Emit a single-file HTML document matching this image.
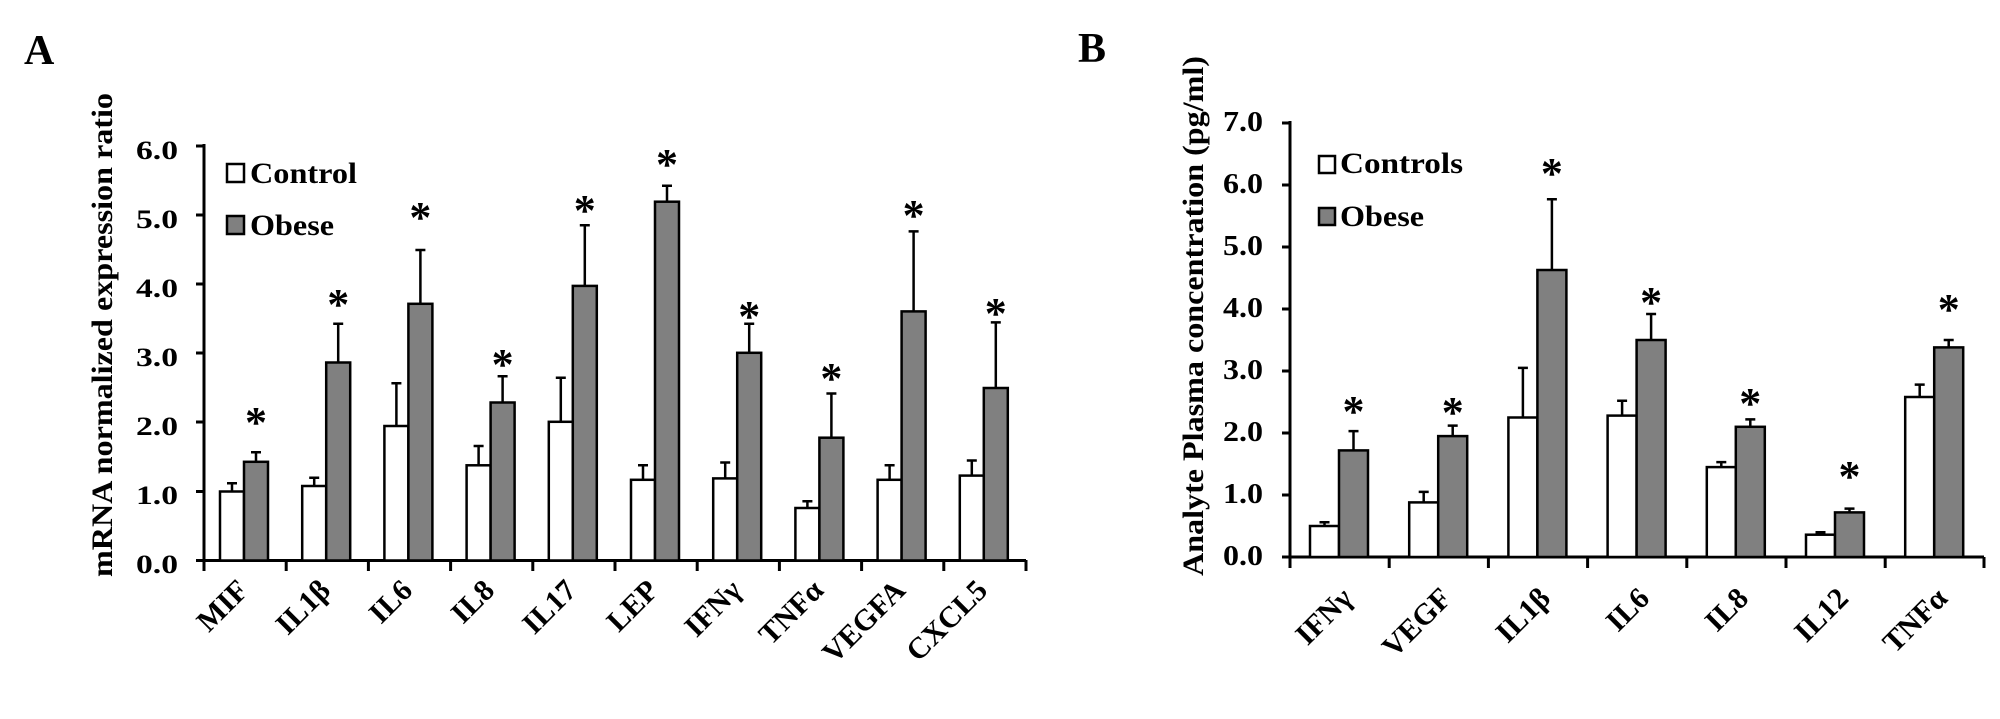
<!DOCTYPE html>
<html><head><meta charset="utf-8"><style>body{margin:0;background:#fff}svg{display:block}text{font-family:"Liberation Serif",serif;font-weight:bold;fill:#000}</style></head><body>
<svg width="2000" height="719" viewBox="0 0 2000 719" xmlns="http://www.w3.org/2000/svg">
<text x="24" y="64" font-size="42">A</text>
<text x="1078" y="62" font-size="42">B</text>
<!-- Panel A -->
<text transform="translate(112,335) rotate(-90)" font-size="30" text-anchor="middle" textLength="484" lengthAdjust="spacingAndGlyphs">mRNA normalized expression ratio</text>
<g font-size="26" text-anchor="end">
<text x="178" y="573" textLength="42" lengthAdjust="spacingAndGlyphs">0.0</text><text x="178" y="504" textLength="42" lengthAdjust="spacingAndGlyphs">1.0</text><text x="178" y="435" textLength="42" lengthAdjust="spacingAndGlyphs">2.0</text><text x="178" y="366" textLength="42" lengthAdjust="spacingAndGlyphs">3.0</text><text x="178" y="297" textLength="42" lengthAdjust="spacingAndGlyphs">4.0</text><text x="178" y="228" textLength="42" lengthAdjust="spacingAndGlyphs">5.0</text><text x="178" y="159" textLength="42" lengthAdjust="spacingAndGlyphs">6.0</text></g>
<g stroke="#000" stroke-width="3">
<line x1="204" y1="144" x2="204" y2="562"/><line x1="202" y1="560.5" x2="1026" y2="560.5"/>
<line x1="196" y1="146" x2="204" y2="146"/><line x1="196" y1="215" x2="204" y2="215"/><line x1="196" y1="284" x2="204" y2="284"/><line x1="196" y1="353" x2="204" y2="353"/><line x1="196" y1="422" x2="204" y2="422"/><line x1="196" y1="491.5" x2="204" y2="491.5"/><line x1="196" y1="560.5" x2="204" y2="560.5"/>
<line x1="204" y1="560" x2="204" y2="571"/><line x1="286.2" y1="560" x2="286.2" y2="571"/><line x1="368.4" y1="560" x2="368.4" y2="571"/><line x1="450.6" y1="560" x2="450.6" y2="571"/><line x1="532.8" y1="560" x2="532.8" y2="571"/><line x1="615" y1="560" x2="615" y2="571"/><line x1="697.2" y1="560" x2="697.2" y2="571"/><line x1="779.4" y1="560" x2="779.4" y2="571"/><line x1="861.6" y1="560" x2="861.6" y2="571"/><line x1="943.8" y1="560" x2="943.8" y2="571"/><line x1="1026" y1="560" x2="1026" y2="571"/>
</g>
<g stroke="#000" stroke-width="2.5">
<path d="M232 491.5V483.2M227 483.2h10M256 461.8V452.2M251 452.2h10
M314.2 486V477.7M309.2 477.7h10M338.2 362.5V323.8M333.2 323.8h10
M396.4 426V383.2M391.4 383.2h10M420.4 303.8V250M415.4 250h10
M478.6 465.3V446M473.6 446h10M502.6 402.5V376.3M497.6 376.3h10
M560.8 421.8V377.7M555.8 377.7h10M584.8 285.9V225.2M579.8 225.2h10
M643 479.8V465.3M638 465.3h10M667 201.7V185.8M662 185.8h10
M725.2 478.4V462.5M720.2 462.5h10M749.2 352.8V323.8M744.2 323.8h10
M807.4 508V501.2M802.4 501.2h10M831.4 437.7V393.5M826.4 393.5h10
M889.6 479.8V465.3M884.6 465.3h10M913.6 311.4V231.4M908.6 231.4h10
M971.8 475.6V460.5M966.8 460.5h10M995.8 388V322.4M990.8 322.4h10" fill="none"/>
<rect x="220" y="491.5" width="24" height="69" fill="#fff"/><rect x="244" y="461.8" width="24" height="98.7" fill="#808080"/>
<rect x="302.2" y="486" width="24" height="74.5" fill="#fff"/><rect x="326.2" y="362.5" width="24" height="198" fill="#808080"/>
<rect x="384.4" y="426" width="24" height="134.5" fill="#fff"/><rect x="408.4" y="303.8" width="24" height="256.7" fill="#808080"/>
<rect x="466.6" y="465.3" width="24" height="95.2" fill="#fff"/><rect x="490.6" y="402.5" width="24" height="158" fill="#808080"/>
<rect x="548.8" y="421.8" width="24" height="138.7" fill="#fff"/><rect x="572.8" y="285.9" width="24" height="274.6" fill="#808080"/>
<rect x="631" y="479.8" width="24" height="80.7" fill="#fff"/><rect x="655" y="201.7" width="24" height="358.8" fill="#808080"/>
<rect x="713.2" y="478.4" width="24" height="82.1" fill="#fff"/><rect x="737.2" y="352.8" width="24" height="207.7" fill="#808080"/>
<rect x="795.4" y="508" width="24" height="52.5" fill="#fff"/><rect x="819.4" y="437.7" width="24" height="122.8" fill="#808080"/>
<rect x="877.6" y="479.8" width="24" height="80.7" fill="#fff"/><rect x="901.6" y="311.4" width="24" height="249.1" fill="#808080"/>
<rect x="959.8" y="475.6" width="24" height="84.9" fill="#fff"/><rect x="983.8" y="388" width="24" height="172.5" fill="#808080"/>
<rect x="227" y="164" width="17" height="18" fill="#fff"/><rect x="227" y="216" width="17" height="18" fill="#808080"/>
<rect x="1319" y="156" width="16" height="17" fill="#fff"/><rect x="1319" y="208" width="16" height="17" fill="#808080"/>
</g>
<text x="250" y="183" font-size="30" textLength="107" lengthAdjust="spacingAndGlyphs">Control</text>
<text x="250" y="235" font-size="30" textLength="84" lengthAdjust="spacingAndGlyphs">Obese</text>
<g font-size="44" text-anchor="middle">
<text x="256" y="437">*</text><text x="338.2" y="319">*</text><text x="420.4" y="232">*</text><text x="502.6" y="379">*</text><text x="584.8" y="225">*</text><text x="667" y="179">*</text><text x="749.2" y="331">*</text><text x="831.4" y="393">*</text><text x="913.6" y="230">*</text><text x="995.8" y="328">*</text>
</g>
<g font-size="30" text-anchor="end">
<text transform="translate(250,592) rotate(-45)">MIF</text>
<text transform="translate(332,592) rotate(-45)">IL1β</text>
<text transform="translate(414,592) rotate(-45)">IL6</text>
<text transform="translate(496,592) rotate(-45)">IL8</text>
<text transform="translate(578,592) rotate(-45)">IL17</text>
<text transform="translate(660,592) rotate(-45)">LEP</text>
<text transform="translate(743,592) rotate(-45)">IFNγ</text>
<text transform="translate(825,592) rotate(-45)">TNFα</text>
<text transform="translate(907,592) rotate(-45)">VEGFA</text>
<text transform="translate(989,592) rotate(-45)">CXCL5</text>
</g>
<!-- Panel B -->
<text transform="translate(1203,316) rotate(-90)" font-size="30" text-anchor="middle" textLength="520" lengthAdjust="spacingAndGlyphs">Analyte Plasma concentration (pg/ml)</text>
<g font-size="28" text-anchor="end">
<text x="1263" y="565" textLength="40" lengthAdjust="spacingAndGlyphs">0.0</text><text x="1263" y="503" textLength="40" lengthAdjust="spacingAndGlyphs">1.0</text><text x="1263" y="441" textLength="40" lengthAdjust="spacingAndGlyphs">2.0</text><text x="1263" y="379" textLength="40" lengthAdjust="spacingAndGlyphs">3.0</text><text x="1263" y="317" textLength="40" lengthAdjust="spacingAndGlyphs">4.0</text><text x="1263" y="255" textLength="40" lengthAdjust="spacingAndGlyphs">5.0</text><text x="1263" y="193" textLength="40" lengthAdjust="spacingAndGlyphs">6.0</text><text x="1263" y="131" textLength="40" lengthAdjust="spacingAndGlyphs">7.0</text></g>
<g stroke="#000" stroke-width="3">
<line x1="1290" y1="121" x2="1290" y2="559"/><line x1="1288" y1="557" x2="1984" y2="557"/>
<line x1="1282" y1="123" x2="1290" y2="123"/><line x1="1282" y1="185" x2="1290" y2="185"/><line x1="1282" y1="247" x2="1290" y2="247"/><line x1="1282" y1="309" x2="1290" y2="309"/><line x1="1282" y1="371" x2="1290" y2="371"/><line x1="1282" y1="433" x2="1290" y2="433"/><line x1="1282" y1="495" x2="1290" y2="495"/><line x1="1282" y1="557" x2="1290" y2="557"/>
<line x1="1290" y1="557" x2="1290" y2="568"/><line x1="1389.2" y1="557" x2="1389.2" y2="568"/><line x1="1488.4" y1="557" x2="1488.4" y2="568"/><line x1="1587.6" y1="557" x2="1587.6" y2="568"/><line x1="1686.8" y1="557" x2="1686.8" y2="568"/><line x1="1786" y1="557" x2="1786" y2="568"/><line x1="1885.2" y1="557" x2="1885.2" y2="568"/><line x1="1984" y1="557" x2="1984" y2="568"/>
</g>
<g stroke="#000" stroke-width="2.5">
<path d="M1324.5 526V522.3M1319.5 522.3h10M1353.5 450.4V431.1M1348.5 431.1h10
M1423.7 502.4V491.9M1418.7 491.9h10M1452.7 436.1V425.6M1447.7 425.6h10
M1522.9 417.5V367.9M1517.9 367.9h10M1551.9 270V199.3M1546.9 199.3h10
M1622.1 415.6V400.8M1617.1 400.8h10M1651.1 340V314M1646.1 314h10
M1721.3 467.1V462.1M1716.3 462.1h10M1750.3 426.8V419.4M1745.3 419.4h10
M1820.5 534.7V532.2M1815.5 532.2h10M1849.5 512.4V508.6M1844.5 508.6h10
M1919.7 397V384.6M1914.7 384.6h10M1948.7 347.4V340M1943.7 340h10" fill="none"/>
<rect x="1310" y="526" width="29" height="31" fill="#fff"/><rect x="1339" y="450.4" width="29" height="106.6" fill="#808080"/>
<rect x="1409.2" y="502.4" width="29" height="54.6" fill="#fff"/><rect x="1438.2" y="436.1" width="29" height="120.9" fill="#808080"/>
<rect x="1508.4" y="417.5" width="29" height="139.5" fill="#fff"/><rect x="1537.4" y="270" width="29" height="287" fill="#808080"/>
<rect x="1607.6" y="415.6" width="29" height="141.4" fill="#fff"/><rect x="1636.6" y="340" width="29" height="217" fill="#808080"/>
<rect x="1706.8" y="467.1" width="29" height="89.9" fill="#fff"/><rect x="1735.8" y="426.8" width="29" height="130.2" fill="#808080"/>
<rect x="1806" y="534.7" width="29" height="22.3" fill="#fff"/><rect x="1835" y="512.4" width="29" height="44.6" fill="#808080"/>
<rect x="1905.2" y="397" width="29" height="160" fill="#fff"/><rect x="1934.2" y="347.4" width="29" height="209.6" fill="#808080"/>
</g>
<text x="1340" y="173" font-size="30" textLength="123" lengthAdjust="spacingAndGlyphs">Controls</text>
<text x="1340" y="226" font-size="30" textLength="84" lengthAdjust="spacingAndGlyphs">Obese</text>
<g font-size="44" text-anchor="middle">
<text x="1353.5" y="426">*</text><text x="1452.7" y="427">*</text><text x="1551.9" y="188">*</text><text x="1651.1" y="317">*</text><text x="1750.3" y="418">*</text><text x="1849.5" y="491">*</text><text x="1948.7" y="324">*</text>
</g>
<g font-size="30" text-anchor="end">
<text transform="translate(1354,600) rotate(-45)">IFNγ</text>
<text transform="translate(1453,600) rotate(-45)">VEGF</text>
<text transform="translate(1552,600) rotate(-45)">IL1β</text>
<text transform="translate(1651,600) rotate(-45)">IL6</text>
<text transform="translate(1750,600) rotate(-45)">IL8</text>
<text transform="translate(1850,600) rotate(-45)">IL12</text>
<text transform="translate(1949,600) rotate(-45)">TNFα</text>
</g>
</svg>
</body></html>
